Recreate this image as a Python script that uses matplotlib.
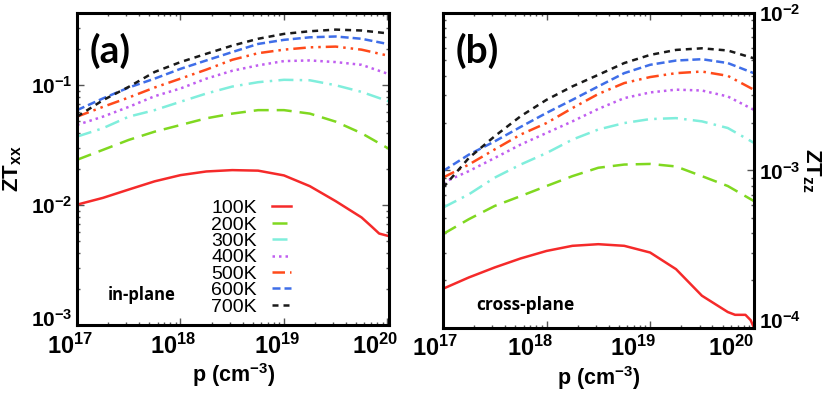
import numpy as np
import matplotlib
matplotlib.use("Agg")
import matplotlib.pyplot as plt
from matplotlib.ticker import LogLocator, NullFormatter, FixedLocator
from matplotlib.transforms import ScaledTranslation

plt.rcParams['font.family'] = ['Liberation Sans', 'DejaVu Sans']
plt.rcParams['mathtext.fontset'] = 'custom'
plt.rcParams['mathtext.rm'] = 'Liberation Sans:bold'
plt.rcParams['mathtext.it'] = 'Liberation Sans:bold'
plt.rcParams['mathtext.bf'] = 'Liberation Sans:bold'

# log10 of hole concentration p (cm^-3)
logp = [17.0, 17.25, 17.5, 17.75, 18.0, 18.25, 18.5, 18.75, 19.0, 19.25, 19.5, 19.75, 20.0]
logp_a_end = 20.02
logp_red_a = [17.0, 17.25, 17.5, 17.75, 18.0, 18.25, 18.5, 18.75, 19.0, 19.25, 19.5, 19.75,
              19.85, 19.92, 20.02]
logp_red_b = [17.0, 17.25, 17.5, 17.75, 18.0, 18.25, 18.5, 18.75, 19.0, 19.25, 19.5, 19.75,
              19.82, 19.92, 19.97, 20.0]

temps = ["100K", "200K", "300K", "400K", "500K", "600K", "700K"]

# panel (a): ZT_xx, in-plane (last value at logp_a_end)
zt_xx = {
    "100K": [0.0101, 0.0115, 0.0135, 0.0158, 0.0178, 0.0191, 0.0196, 0.0194, 0.0177, 0.0144, 0.0108,
             0.0079, 0.0066, 0.0058, 0.0055],
    "200K": [0.0239, 0.0289, 0.0350, 0.0410, 0.0466, 0.0530, 0.0580, 0.0620, 0.0620, 0.0580, 0.0497,
             0.0398, 0.0300, 0.0295],
    "300K": [0.0373, 0.0438, 0.0547, 0.0620, 0.0728, 0.0853, 0.0975, 0.1060, 0.1110, 0.1100, 0.1000,
             0.0880, 0.0740, 0.0730],
    "400K": [0.0467, 0.0547, 0.0660, 0.0810, 0.0940, 0.1135, 0.1320, 0.1465, 0.1590, 0.1610, 0.1560,
             0.1480, 0.1250, 0.1230],
    "500K": [0.0547, 0.0660, 0.0790, 0.0957, 0.1135, 0.1350, 0.1630, 0.1850, 0.1980, 0.2070, 0.2100,
             0.1980, 0.1770, 0.1750],
    "600K": [0.0620, 0.0776, 0.0957, 0.1135, 0.1370, 0.1610, 0.1890, 0.2210, 0.2390, 0.2510, 0.2550,
             0.2440, 0.2210, 0.2190],
    "700K": [0.0547, 0.0750, 0.0970, 0.1290, 0.1560, 0.1830, 0.2140, 0.2440, 0.2680, 0.2820, 0.2910,
             0.2860, 0.2710, 0.2690],
}

# panel (b): ZT_zz, cross-plane
zt_zz = {
    "100K": [1.77e-4, 2.09e-4, 2.42e-4, 2.76e-4, 3.08e-4, 3.32e-4, 3.40e-4, 3.32e-4, 3.01e-4, 2.36e-4,
             1.60e-4, 1.26e-4, 1.21e-4, 1.21e-4, 1.12e-4, 1.01e-4],
    "200K": [3.94e-4, 4.90e-4, 5.95e-4, 6.87e-4, 7.96e-4, 9.20e-4, 1.04e-3, 1.09e-3, 1.10e-3, 1.06e-3,
             9.20e-4, 7.96e-4, 6.40e-4],
    "300K": [5.80e-4, 7.05e-4, 9.00e-4, 1.09e-3, 1.29e-3, 1.57e-3, 1.82e-3, 2.00e-3, 2.12e-3, 2.15e-3,
             2.05e-3, 1.86e-3, 1.50e-3],
    "400K": [8.36e-4, 9.90e-4, 1.20e-3, 1.46e-3, 1.73e-3, 2.05e-3, 2.46e-3, 2.88e-3, 3.13e-3, 3.26e-3,
             3.22e-3, 2.95e-3, 2.43e-3],
    "500K": [9.00e-4, 1.09e-3, 1.36e-3, 1.69e-3, 2.00e-3, 2.49e-3, 3.06e-3, 3.59e-3, 3.92e-3, 4.15e-3,
             4.25e-3, 3.99e-3, 3.26e-3],
    "600K": [9.90e-4, 1.26e-3, 1.53e-3, 1.89e-3, 2.32e-3, 2.81e-3, 3.42e-3, 4.15e-3, 4.69e-3, 4.99e-3,
             5.09e-3, 4.81e-3, 4.15e-3],
    "700K": [7.76e-4, 1.20e-3, 1.65e-3, 2.21e-3, 2.81e-3, 3.42e-3, 4.05e-3, 4.81e-3, 5.42e-3, 5.83e-3,
             5.97e-3, 5.78e-3, 5.16e-3],
}

colors = {"100K": "#f52a2a", "200K": "#80d820", "300K": "#80eedc", "400K": "#c05ef0",
          "500K": "#ff4a1a", "600K": "#3f6ee8", "700K": "#1a1a1a"}
styles = {"100K": "-", "200K": (0, (6, 3.2)), "300K": (0, (6, 2.5, 1, 2.5)), "400K": (0, (1, 1.6)),
          "500K": (0, (5, 2, 1, 2, 1, 2)), "600K": (0, (3.2, 1.6)), "700K": (0, (2.4, 2.0))}


def style_axis(ax, xmax, ymin, ymax):
    ax.set_xscale("log")
    ax.set_yscale("log")
    ax.set_xlim(1e17, xmax)
    ax.set_ylim(ymin, ymax)
    for sp in ax.spines.values():
        sp.set_linewidth(2.2)
    ax.tick_params(which="both", direction="in", top=True, right=True, left=True,
                   color="#555555", width=1.0)
    ax.tick_params(which="major", length=5)
    ax.tick_params(which="minor", length=2.5)
    ax.xaxis.set_major_locator(FixedLocator([1e17, 1e18, 1e19, 1e20]))
    ax.xaxis.set_minor_locator(LogLocator(base=10, subs=np.arange(2, 10)))
    ax.xaxis.set_minor_formatter(NullFormatter())
    ax.yaxis.set_minor_locator(LogLocator(base=10, subs=np.arange(2, 10)))
    ax.yaxis.set_minor_formatter(NullFormatter())
    ax.set_xticklabels([r"$10^{17}$", r"$10^{18}$", r"$10^{19}$", r"$10^{20}$"], fontsize=17)
    ax.tick_params(axis="x", pad=6)
    ax.set_xlabel(r"p (cm$^{-3}$)", fontsize=15.5, fontweight="bold", labelpad=2)


def shift_labels(labels, shifts_px, vertical=False):
    # gnuplot-like label placement; done last since tick_params resets transforms
    for lab, d in zip(labels, shifts_px):
        if vertical:
            off = ScaledTranslation(0, d / 100, fig.dpi_scale_trans)
        else:
            off = ScaledTranslation(d / 100, 0, fig.dpi_scale_trans)
        lab.set_transform(lab.get_transform() + off)


fig = plt.figure(figsize=(8.31, 3.95), dpi=100)
ax1 = fig.add_axes([0.0927, 0.177, 0.376, 0.790])
ax2 = fig.add_axes([0.533, 0.170, 0.374, 0.797])

xa = 10 ** np.array(logp + [logp_a_end])
xb = 10 ** np.array(logp)
for t in temps:
    if t == "100K":
        ax1.plot(10 ** np.array(logp_red_a), zt_xx[t], color=colors[t], linestyle=styles[t], lw=1.8, label=t)
        ax2.plot(10 ** np.array(logp_red_b), zt_zz[t], color=colors[t], linestyle=styles[t], lw=1.8, label=t)
    else:
        ax1.plot(xa, zt_xx[t], color=colors[t], linestyle=styles[t], lw=1.8, label=t)
        ax2.plot(xb, zt_zz[t], color=colors[t], linestyle=styles[t], lw=1.8, label=t)

style_axis(ax1, 10 ** logp_a_end, 1e-3, 0.4)
ax1.yaxis.set_major_locator(FixedLocator([1e-3, 1e-2, 1e-1]))
ax1.set_yticklabels([r"$10^{-3}$", r"$10^{-2}$", r"$10^{-1}$"], fontsize=15)
ax1.set_ylabel(r"ZT$_{\mathbf{xx}}$", fontsize=16, fontweight="bold", labelpad=5)
ax1.text(0.106, 0.878, "(a)", transform=ax1.transAxes, fontsize=28, fontweight="bold", ha="center",
         va="center", family="Lato")
ax1.text(0.208, 0.096, "in-plane", transform=ax1.transAxes, fontsize=12, fontweight="bold", ha="center",
         va="center", family="Open Sans")
ax1.legend(loc="lower right", bbox_to_anchor=(0.685, 0.03), frameon=False, markerfirst=False,
           fontsize=14, handlelength=1.0, handletextpad=0.75, labelspacing=-0.06, borderaxespad=0,
           borderpad=0)

style_axis(ax2, 1e20, 1e-4, 1e-2)
ax2.yaxis.set_major_locator(FixedLocator([1e-4, 1e-3, 1e-2]))
ax2.yaxis.tick_right()
ax2.tick_params(which="both", left=True, right=True, direction="in")
ax2.set_yticklabels([r"$10^{-4}$", r"$10^{-3}$", r"$10^{-2}$"], fontsize=15)
ax2.yaxis.set_label_position("right")
ax2.set_ylabel(r"ZT$_{\mathbf{zz}}$", fontsize=16, fontweight="bold", rotation=-90, labelpad=16)
ax2.text(0.11, 0.88, "(b)", transform=ax2.transAxes, fontsize=28, fontweight="bold", ha="center",
         va="center", family="Lato")
ax2.text(0.264, 0.073, "cross-plane", transform=ax2.transAxes, fontsize=12.5, fontweight="bold",
         ha="center", va="center", family="Open Sans")

shift_labels(ax1.get_xticklabels(), [-7, -7, -7, -12])
shift_labels(ax2.get_xticklabels(), [-8, -16, -17, -23])
shift_labels(ax1.get_yticklabels(), [7, 0, 0], vertical=True)
shift_labels(ax2.get_yticklabels(), [8, 0, 0], vertical=True)

fig.savefig("out.png", dpi=100)
